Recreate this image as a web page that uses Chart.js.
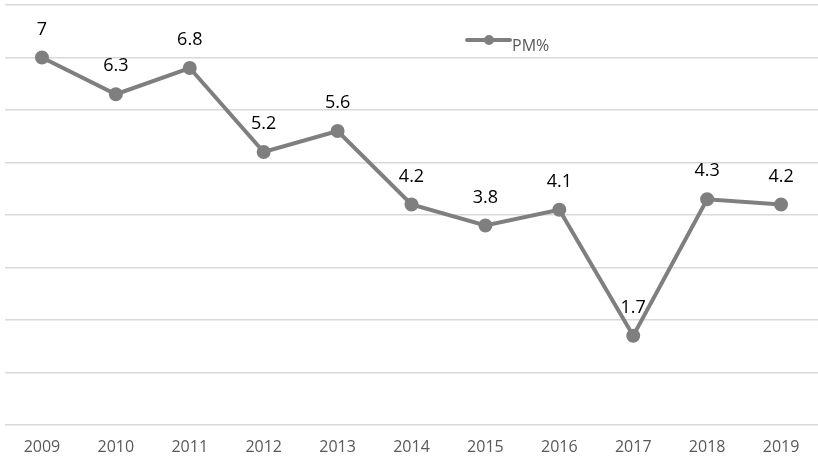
<!DOCTYPE html>
<html>
<head>
<meta charset="utf-8">
<script src="https://cdn.jsdelivr.net/npm/chart.js@4"></script>
<style>
  html, body { margin: 0; padding: 0; background: #fff; overflow: hidden; }
  #wrap { width: 818px; height: 461px; }
  canvas { display: block; }
</style>
</head>
<body>
<div id="wrap"><canvas id="pmChart"></canvas></div>
<script>
const years = ["2009", "2010", "2011", "2012", "2013", "2014", "2015", "2016", "2017", "2018", "2019"];
const pmValues = [7, 6.3, 6.8, 5.2, 5.6, 4.2, 3.8, 4.1, 1.7, 4.3, 4.2];
const seriesName = "PM%";

const fontFamily = "Open Sans, Liberation Sans, sans-serif";
const lineColor = "#7f7f7f";

// value labels above each point
const valueLabels = {
  id: "valueLabels",
  afterDatasetsDraw(chart) {
    const ctx = chart.ctx;
    const meta = chart.getDatasetMeta(0);
    ctx.save();
    ctx.font = "18px " + fontFamily;
    ctx.fillStyle = "#000";
    ctx.textAlign = "center";
    ctx.textBaseline = "middle";
    meta.data.forEach((pt, i) => {
      ctx.fillText(String(pmValues[i]), pt.x, pt.y - 28);
    });
    ctx.restore();
  }
};

// legend drawn inside the plot area, like the original
const innerLegend = {
  id: "innerLegend",
  afterDraw(chart) {
    const ctx = chart.ctx;
    const x = 467, y = 40;
    ctx.save();
    ctx.strokeStyle = lineColor;
    ctx.lineWidth = 4;
    ctx.lineCap = "round";
    ctx.beginPath();
    ctx.moveTo(x, y);
    ctx.lineTo(x + 43, y);
    ctx.stroke();
    ctx.fillStyle = lineColor;
    ctx.beginPath();
    ctx.arc(x + 22, y, 5, 0, Math.PI * 2);
    ctx.fill();
    ctx.font = "16px " + fontFamily;
    ctx.fillStyle = "#595959";
    ctx.textBaseline = "middle";
    ctx.fillText(seriesName, x + 45, y + 6);
    ctx.restore();
  }
};

new Chart(document.getElementById("pmChart"), {
  type: "line",
  data: {
    labels: years,
    datasets: [
      {
        label: seriesName,
        data: pmValues,
        borderColor: lineColor,
        backgroundColor: lineColor,
        borderWidth: 4,
        pointRadius: 5,
        pointHoverRadius: 5,
        tension: 0,
        clip: false,
      },
    ],
  },
  options: {
    responsive: true,
    maintainAspectRatio: false,
    animation: false,
    layout: { autoPadding: false, padding: { top: 5, left: 5, right: 0, bottom: 0 } },
    plugins: {
      legend: { display: false },
      tooltip: { enabled: false },
    },
    scales: {
      x: {
        offset: true,
        grid: { display: false },
        border: { display: false },
        ticks: {
          color: "#595959",
          padding: 5,
          font: { family: fontFamily, size: 16 },
        },
        afterFit(scale) {
          scale.paddingLeft = 0;
          scale.paddingRight = 0;
          scale.height = 36;
        },
      },
      y: {
        min: 0,
        max: 8,
        ticks: { display: false, stepSize: 1 },
        border: { display: false },
        grid: { color: "#d9d9d9", lineWidth: 1.5, drawTicks: false },
        afterFit(scale) {
          scale.width = 0;
        },
      },
    },
  },
  plugins: [valueLabels, innerLegend],
});
</script>
</body>
</html>
